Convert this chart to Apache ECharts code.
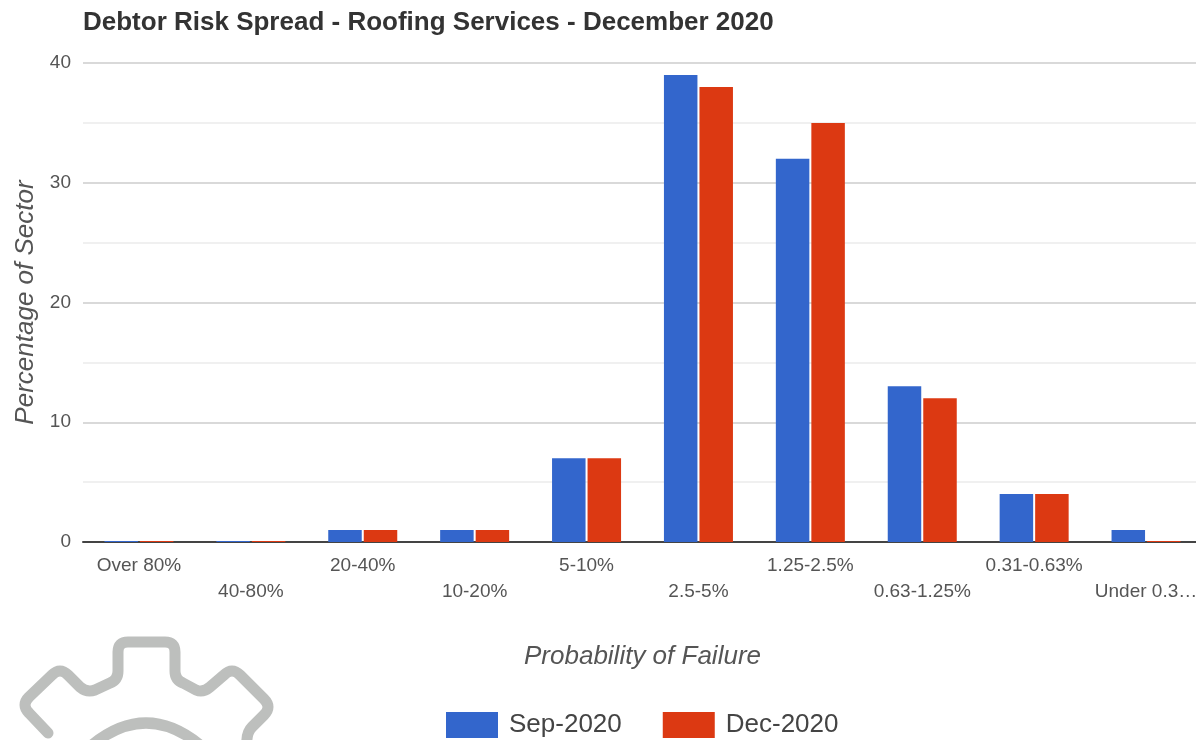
<!DOCTYPE html>
<html><head><meta charset="utf-8">
<style>html,body{margin:0;padding:0;background:#fff}#c{width:1196px;height:740px}</style>
<script src="https://cdn.jsdelivr.net/npm/echarts@6/dist/echarts.min.js"></script>
</head><body><div id="c"></div>
<script>
const categories = ['Over 80%','40-80%','20-40%','10-20%','5-10%','2.5-5%','1.25-2.5%','0.63-1.25%','0.31-0.63%','Under 0.3…'];
const sep2020 = [0,0,1,1,7,39,32,13,4,1];
const dec2020 = [0,0,1,1,7,38,35,12,4,0];
const yTicks = {min:0,max:40,interval:10};
const font = '"Liberation Sans", Arial, sans-serif';
const gearOutline = 'M48 733 L29 713 Q21 705 29 697 L52 675 Q60 667 68 675 L80 687 Q87 693 95 690 L110 683 Q118 680 118 671 L118 652 Q118 642 128 642 L165 642 Q175 642 175 652 L175 671 Q175 680 183 683 L196 690 Q203 693 210 687 L224 675 Q232 667 240 675 L264 699 Q272 707 264 715 L252 727 Q246 733 247 745';
const gearRing = 'M92 745 Q146 701 200 745';
echarts.graphic.registerShape('gearOutline', echarts.graphic.extendPath(gearOutline, {}));
echarts.graphic.registerShape('gearRing', echarts.graphic.extendPath(gearRing, {}));
const chart = echarts.init(document.getElementById('c'),null,{renderer:'canvas'});
chart.setOption({
  animation:false,
  backgroundColor:'#fff',
  title:{text:'Debtor Risk Spread - Roofing Services - December 2020',left:83,top:10,padding:0,
    textStyle:{fontFamily:font,fontSize:26,fontWeight:'bold',color:'#333'}},
  grid:{left:83,right:-6,top:63,bottom:198,containLabel:false,outerBoundsMode:'none'},
  legend:{left:446,top:712,padding:0,itemWidth:52,itemHeight:26,itemGap:41,
    icon:'rect',
    textStyle:{fontFamily:font,fontSize:26,color:'#444',padding:[0,0,0,6]},
    data:['Sep-2020','Dec-2020']},
  xAxis:{type:'category',data:categories,
    name:'Probability of Failure',nameLocation:'middle',nameGap:102,
    nameTextStyle:{fontFamily:font,fontSize:26,fontStyle:'italic',color:'#555'},
    axisTick:{show:false},
    axisLine:{lineStyle:{color:'#444',width:2}},
    axisLabel:{interval:0,hideOverlap:false,margin:11,lineHeight:26,fontFamily:font,fontSize:19,color:'#555',
      formatter:(v,i)=> i%2 ? '\n'+v : v}},
  yAxis:{type:'value',min:yTicks.min,max:yTicks.max,interval:yTicks.interval,
    name:'Percentage of Sector',nameLocation:'middle',nameGap:39,
    nameTextStyle:{fontFamily:font,fontSize:26,fontStyle:'italic',color:'#555'},
    axisLine:{show:false},axisTick:{show:false},
    axisLabel:{margin:12,fontFamily:font,fontSize:19,color:'#555',padding:[5,0,0,0]},
    splitLine:{lineStyle:{color:'#ccc',width:1.5}},
    minorTick:{show:false,splitNumber:2},
    minorSplitLine:{show:true,lineStyle:{color:'#ebebeb',width:1.5}}},
  series:[
    {name:'Sep-2020',type:'bar',data:sep2020,barWidth:33.5,barGap:'6%',barMinHeight:1,itemStyle:{color:'#3366cc'}},
    {name:'Dec-2020',type:'bar',data:dec2020,barWidth:33.5,barGap:'6%',barMinHeight:1,itemStyle:{color:'#dc3912'}}
  ],
  graphic:[
    {type:'gearOutline',silent:true,style:{fill:null,stroke:'#bdbfbd',lineWidth:11,lineJoin:'round',lineCap:'round'}},
    {type:'gearRing',silent:true,style:{fill:null,stroke:'#bdbfbd',lineWidth:11}}
  ]
});
</script></body></html>
